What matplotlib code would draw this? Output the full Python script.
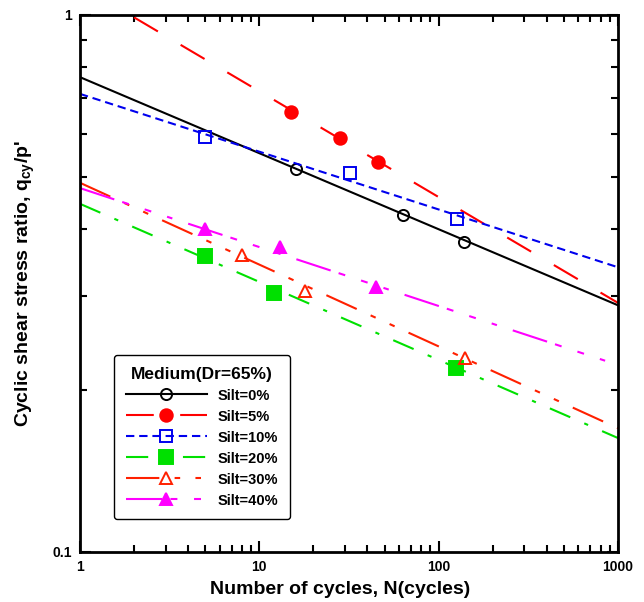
import numpy as np
import matplotlib
matplotlib.use('Agg')
import matplotlib.pyplot as plt
from matplotlib.lines import Line2D
from matplotlib.ticker import NullFormatter

plt.rcParams['font.family'] = ['Liberation Sans', 'DejaVu Sans']
plt.rcParams['font.weight'] = 'bold'
plt.rcParams['mathtext.fontset'] = 'custom'
plt.rcParams['mathtext.rm'] = 'Liberation Sans:bold'
plt.rcParams['mathtext.it'] = 'Liberation Sans:bold'
plt.rcParams['lines.scale_dashes'] = False

# test results: cycles to failure vs cyclic stress ratio
labels = ['Silt=0%', 'Silt=5%', 'Silt=10%', 'Silt=20%', 'Silt=30%', 'Silt=40%']

n_silt0 = [16, 63, 138]
q_silt0 = [0.517, 0.424, 0.378]
n_silt5 = [15, 28, 46]
q_silt5 = [0.660, 0.590, 0.532]
n_silt10 = [5, 32, 126]
q_silt10 = [0.593, 0.508, 0.417]
n_silt20 = [5, 12, 125]
q_silt20 = [0.356, 0.304, 0.220]
n_silt30 = [8, 18, 140]
q_silt30 = [0.357, 0.306, 0.230]
n_silt40 = [5, 13, 45]
q_silt40 = [0.400, 0.370, 0.311]

# trend lines (end points)
line_n0, line_q0 = [1, 1000], [0.766, 0.288]
line_n5, line_q5 = [2, 1000], [0.990, 0.291]
line_n10, line_q10 = [1, 1000], [0.713, 0.339]
line_n20, line_q20 = [1, 1000], [0.445, 0.163]
line_n30, line_q30 = [1, 1000], [0.487, 0.170]
line_n40, line_q40 = [1, 1000], [0.476, 0.223]

x_ticks = [1, 10, 100, 1000]
x_ticklabels = ['1', '10', '100', '1000']
y_ticks = [0.1, 1]
y_ticklabels = ['0.1', '1']

series = [
    (n_silt0, q_silt0, line_n0, line_q0, 'black', 'o', 'none', (None, None)),
    (n_silt5, q_silt5, line_n5, line_q5, '#ff0000', 'o', '#ff0000', (20, 19)),
    (n_silt10, q_silt10, line_n10, line_q10, '#0000ee', 's', 'none', (6, 3.5)),
    (n_silt20, q_silt20, line_n20, line_q20, '#00e000', 's', '#00e000', (16, 11, 3, 11)),
    (n_silt30, q_silt30, line_n30, line_q30, '#ff2000', '^', 'none', (24, 11, 4, 11, 4, 11)),
    (n_silt40, q_silt40, line_n40, line_q40, '#ff00ff', '^', '#ff00ff', (26, 6, 5, 12, 5, 12, 4, 12)),
]
msizes = [8, 9, 8.5, 9.5, 8, 8.5]

fig = plt.figure(figsize=(6.44, 6.02), dpi=100)
ax = fig.add_axes([0.1242, 0.0831, 0.8354, 0.892])

handles = []
for (n, q, ln, lq, c, m, fc, dash), ms, lab in zip(series, msizes, labels):
    if dash[0] is None:
        ls_kw = dict(linestyle='-')
    else:
        ls_kw = dict(dashes=dash)
    ax.plot(ln, lq, color=c, lw=1.5, **ls_kw)
    ax.plot(n, q, linestyle='none', marker=m, ms=ms, mfc=fc, mec=c, mew=1.4)
    handles.append(Line2D([], [], color=c, lw=1.5, marker=m, ms=ms, mfc=fc,
                          mec=c, mew=1.4, **ls_kw))

ax.set_xscale('log')
ax.set_yscale('log')
ax.set_xlim(1, 1000)
ax.set_ylim(0.1, 1)
ax.set_xticks(x_ticks)
ax.set_xticklabels(x_ticklabels)
ax.set_yticks(y_ticks)
ax.set_yticklabels(y_ticklabels)
ax.xaxis.set_minor_formatter(NullFormatter())
ax.yaxis.set_minor_formatter(NullFormatter())
ax.tick_params(which='both', direction='in', top=True, right=True, width=1.5,
               labelsize=10, pad=6)
ax.tick_params(which='major', length=8)
ax.tick_params(which='minor', length=5)
for sp in ax.spines.values():
    sp.set_linewidth(2)

ax.set_xlabel('Number of cycles, N(cycles)', fontsize=14, fontweight='bold')
ax.xaxis.label.set_va('center')
ax.xaxis.set_label_coords(0.483, -0.069)
ax.set_ylabel(r"Cyclic shear stress ratio, q$_{cy}$/p'", fontsize=14,
              fontweight='bold')
ax.yaxis.label.set(va='center', ha='center', rotation_mode='default')
ax.yaxis.set_label_coords(-0.102, 0.5)

leg = ax.legend(handles, labels, loc='upper left', bbox_to_anchor=(0.063, 0.367),
                borderaxespad=0, numpoints=1, handlelength=5.6, handletextpad=0.7,
                labelspacing=0.48, borderpad=0.8, fontsize=10.5,
                title='Medium(Dr=65%)',
                title_fontproperties={'weight': 'bold', 'size': 12.5},
                fancybox=True, framealpha=1, edgecolor='black')
leg.get_frame().set_linewidth(1.0)

fig.savefig('out.png', dpi=100)
